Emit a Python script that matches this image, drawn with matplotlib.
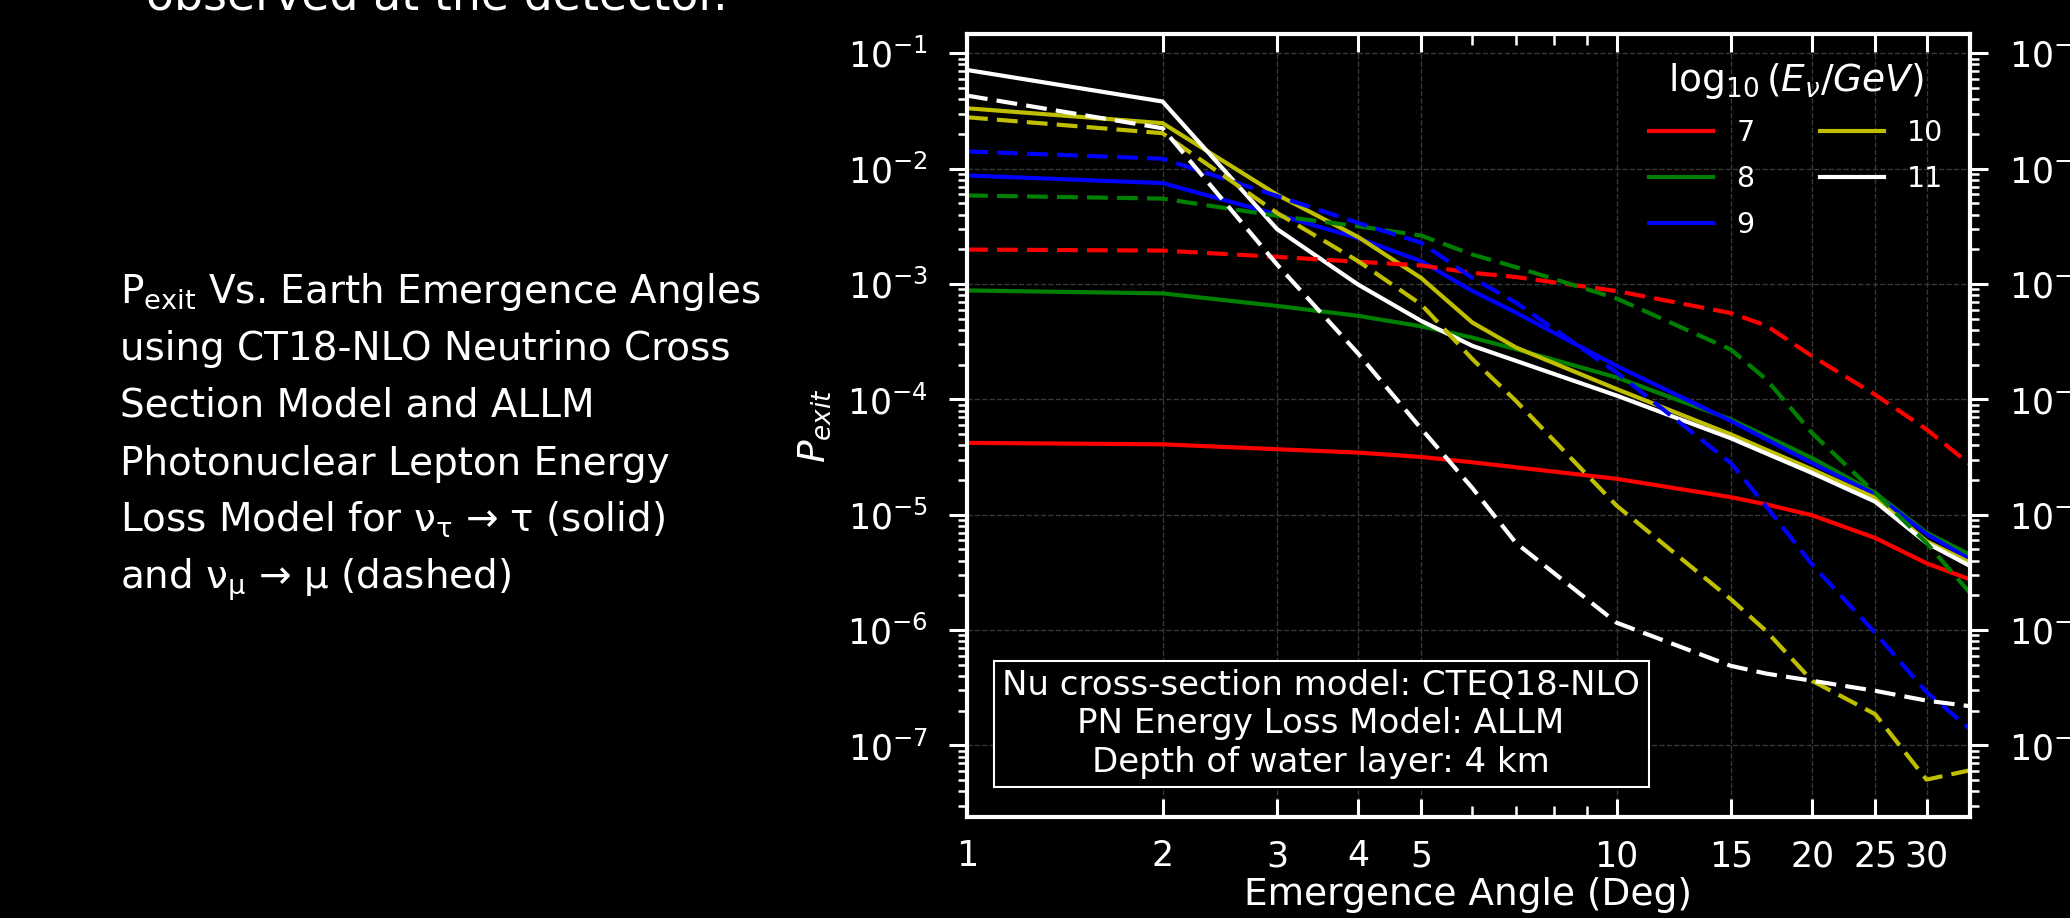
import numpy as np
import matplotlib
matplotlib.use("Agg")
import matplotlib.pyplot as plt
from matplotlib.ticker import FixedLocator, FixedFormatter, LogLocator, NullFormatter

# angulos de emergencia (grados)
angles = [1, 2, 3, 4, 5, 6, 7, 10, 15, 17, 20, 25, 30, 35]

# log10(E_nu / GeV)
energies = [7, 8, 9, 10, 11]
colors = ['r', 'g', 'b', 'y', 'w']

# nu_tau -> tau (linea solida)
p_tau_7 = [4.2e-5, 4.08e-5, 3.7e-5, 3.46e-5, 3.17e-5, 2.85e-5, 2.58e-5, 2.05e-5, 1.42e-5, 1.23e-5, 9.9e-6, 6.3e-6, 3.8e-6, 2.75e-6]
p_tau_8 = [8.8e-4, 8.3e-4, 6.46e-4, 5.3e-4, 4.3e-4, 3.43e-4, 2.73e-4, 1.55e-4, 6.7e-5, 4.8e-5, 3.1e-5, 1.55e-5, 7.0e-6, 4.5e-6]
p_tau_9 = [8.73e-3, 7.5e-3, 4.0e-3, 2.5e-3, 1.58e-3, 8.7e-4, 5.65e-4, 1.95e-4, 6.5e-5, 4.5e-5, 2.8e-5, 1.5e-5, 6.8e-6, 4.1e-6]
p_tau_10 = [0.0334, 0.0248, 5.96e-3, 2.56e-3, 1.13e-3, 4.63e-4, 2.82e-4, 1.23e-4, 4.97e-5, 3.66e-5, 2.47e-5, 1.4e-5, 5.9e-6, 3.84e-6]
p_tau_11 = [0.0717, 0.0382, 3.0e-3, 9.9e-4, 4.8e-4, 2.91e-4, 2.16e-4, 1.08e-4, 4.6e-5, 3.4e-5, 2.3e-5, 1.3e-5, 5.7e-6, 3.6e-6]

# nu_mu -> mu (linea discontinua)
p_mu_7 = [1.99e-3, 1.95e-3, 1.72e-3, 1.56e-3, 1.45e-3, 1.25e-3, 1.15e-3, 8.7e-4, 5.6e-4, 4.36e-4, 2.37e-4, 1.1e-4, 5.5e-5, 2.73e-5]
p_mu_8 = [5.86e-3, 5.5e-3, 3.9e-3, 3.17e-3, 2.63e-3, 1.8e-3, 1.4e-3, 7.5e-4, 2.7e-4, 1.49e-4, 5.1e-5, 1.55e-5, 5.7e-6, 2.1e-6]
p_mu_9 = [0.0141, 0.0122, 5.8e-3, 3.39e-3, 2.28e-3, 1.13e-3, 6.9e-4, 1.71e-4, 2.8e-5, 1.18e-5, 3.7e-6, 9.5e-7, 2.9e-7, 1.39e-7]
p_mu_10 = [0.0279, 0.0203, 4.14e-3, 1.58e-3, 6.67e-4, 2.23e-4, 9.7e-5, 1.2e-5, 1.85e-6, 9.8e-7, 3.64e-7, 1.87e-7, 5.06e-8, 6.1e-8]
p_mu_11 = [0.043, 0.0224, 1.48e-3, 2.5e-4, 5.6e-5, 1.7e-5, 5.7e-6, 1.16e-6, 4.9e-7, 4.2e-7, 3.64e-7, 2.98e-7, 2.45e-7, 2.19e-7]

tau_curves = [p_tau_7, p_tau_8, p_tau_9, p_tau_10, p_tau_11]
mu_curves = [p_mu_7, p_mu_8, p_mu_9, p_mu_10, p_mu_11]

x_ticks = [1, 2, 3, 4, 5, 10, 15, 20, 25, 30]
x_ticklabels = ['1', '2', '3', '4', '5', '10', '15', '20', '25', '30']

slide_lines = [
    r'P$_\mathregular{exit}$ Vs. Earth Emergence Angles',
    'using CT18-NLO Neutrino Cross',
    'Section Model and ALLM',
    'Photonuclear Lepton Energy',
    r'Loss Model for ν$_\mathregular{τ}$ → τ (solid)',
    r'and ν$_\mathregular{μ}$ → μ (dashed)',
]
slide_baselines = [303, 360, 417, 475, 532, 589]

W, H = 2070, 918
fig = plt.figure(figsize=(W / 100, H / 100), dpi=100, facecolor='black')
ax = fig.add_axes([967 / W, 1 - 817 / H, 1003 / W, 783 / H])
ax.set_facecolor('black')

lw = 3.0
for e, c, ys in zip(energies, colors, tau_curves):
    ax.plot(angles, ys, color=c, lw=lw, label=str(e))
for e, c, ys in zip(energies, colors, mu_curves):
    ax.plot(angles, ys, color=c, lw=lw, linestyle='--', dashes=(5.0, 2.2))

ax.set_xscale('log')
ax.set_yscale('log')
ax.set_xlim(1, 35)
ax.set_ylim(2.4e-8, 0.147)

ax.xaxis.set_major_locator(FixedLocator(x_ticks))
ax.xaxis.set_major_formatter(FixedFormatter(x_ticklabels))
ax.xaxis.set_minor_locator(LogLocator(base=10, subs=np.arange(2, 10), numticks=50))
ax.xaxis.set_minor_formatter(NullFormatter())
ax.yaxis.set_major_locator(LogLocator(base=10, numticks=20))
ax.yaxis.set_minor_locator(LogLocator(base=10, subs=np.arange(2, 10), numticks=50))
ax.yaxis.set_minor_formatter(NullFormatter())

ax.tick_params(axis='x', which='both', direction='in', top=True, bottom=True,
               colors='white', labelsize=25, pad=16)
ax.tick_params(axis='y', which='both', direction='out', left=True, right=True,
               labelright=True, colors='white', labelsize=25, pad=15)
ax.tick_params(which='major', length=13, width=2.2)
ax.tick_params(which='minor', length=6.5, width=1.8)
ax.tick_params(axis='x', which='minor', length=8)

for s in ax.spines.values():
    s.set_color('white')
    s.set_linewidth(3.0)

ax.grid(True, which='major', color='0.22', linestyle='--', linewidth=1.0)

ax.set_xlabel('Emergence Angle (Deg)', color='white', fontsize=27, labelpad=3)
ax.set_ylabel(r'$P_{exit}$', color='white', fontsize=27, labelpad=10)

leg = ax.legend(loc='upper right', ncol=2, frameon=False, fontsize=20.5,
                title=r'$\log_{10}(E_\nu/GeV)$', title_fontsize=27,
                handlelength=2.25, handletextpad=0.8, columnspacing=2.3,
                labelspacing=0.63, borderaxespad=0.55)
for t in leg.get_texts():
    t.set_color('white')
leg.get_title().set_color('white')

ax.text(0.353, 0.119,
        'Nu cross-section model: CTEQ18-NLO\nPN Energy Loss Model: ALLM\nDepth of water layer: 4 km',
        transform=ax.transAxes, ha='center', va='center', multialignment='center',
        color='white', fontsize=24.5,
        bbox=dict(boxstyle='square,pad=0.25', facecolor='black', edgecolor='white', linewidth=1.5))

# texto de la diapositiva
fig.text(146 / W, 1 - 10 / H, 'observed at the detector.', color='white',
         fontsize=33, va='baseline', ha='left')
for line, b in zip(slide_lines, slide_baselines):
    fig.text(120 / W, 1 - b / H, line, color='white', fontsize=28,
             va='baseline', ha='left')

fig.savefig('out.png', dpi=100, facecolor='black')
